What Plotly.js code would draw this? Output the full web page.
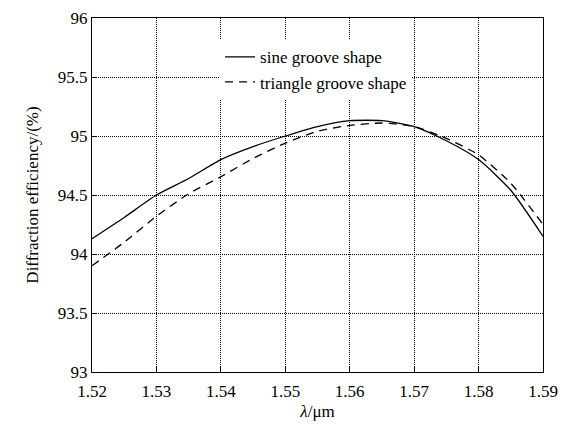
<!DOCTYPE html>
<html>
<head>
<meta charset="utf-8">
<script src="https://cdn.plot.ly/plotly-3.0.1.min.js"></script>
</head>
<body style="margin:0">
<div id="plot"></div>
<script>
// Wavelength samples (µm)
const wavelength = [1.520, 1.525, 1.530, 1.535, 1.540, 1.545, 1.550, 1.555,
                    1.560, 1.565, 1.570, 1.575, 1.580, 1.585, 1.590];
// Diffraction efficiency (%) for each groove profile
const sineGroove = [94.13, 94.31, 94.50, 94.64, 94.80, 94.91, 95.00, 95.08,
                    95.13, 95.13, 95.08, 94.96, 94.80, 94.54, 94.15];
const triangleGroove = [93.90, 94.10, 94.32, 94.51, 94.655, 94.81, 94.94, 95.04,
                        95.09, 95.11, 95.08, 94.98, 94.84, 94.60, 94.25];

const xTicks = [1.52, 1.53, 1.54, 1.55, 1.56, 1.57, 1.58, 1.59];
const yTicks = [93, 93.5, 94, 94.5, 95, 95.5, 96];

const SERIF = 'Times New Roman, Liberation Serif, serif';

const traces = [
  {
    x: wavelength, y: sineGroove, name: 'sine groove shape',
    type: 'scatter', mode: 'lines',
    line: { color: '#000', width: 1.3, dash: 'solid', shape: 'spline', smoothing: 0.6 }
  },
  {
    x: wavelength, y: triangleGroove, name: 'triangle groove shape',
    type: 'scatter', mode: 'lines',
    line: { color: '#000', width: 1.3, dash: '8px,6px', shape: 'spline', smoothing: 0.6 }
  }
];

const layout = {
  width: 570, height: 426,
  margin: { l: 92, r: 27, t: 18, b: 54 },
  font: { family: SERIF, size: 17, color: '#000' },
  showlegend: true,
  legend: {
    x: 0.284, y: 0.94, xanchor: 'left', yanchor: 'top',
    bgcolor: '#fff', borderwidth: 0, tracegroupgap: 0,
    font: { family: SERIF, size: 17, color: '#000' }
  },
  xaxis: {
    showline: true, linecolor: '#000', linewidth: 1, mirror: true,
    ticks: 'inside', ticklen: 5, tickcolor: '#000', tickwidth: 1,
    showgrid: true, gridcolor: '#000', gridwidth: 1, griddash: '1px,1px',
    zeroline: false,
    range: [1.52, 1.59], tickvals: xTicks,
    ticktext: xTicks.map(v => v.toFixed(2)),
    tickfont: { family: SERIF, size: 17, color: '#000' },
    ticklabelstandoff: 4,
    title: { text: '<i>λ</i>/μm', standoff: 4, font: { family: SERIF, size: 17, color: '#000' } }
  },
  yaxis: {
    showline: true, linecolor: '#000', linewidth: 1, mirror: true,
    ticks: 'inside', ticklen: 5, tickcolor: '#000', tickwidth: 1,
    showgrid: true, gridcolor: '#000', gridwidth: 1, griddash: '1px,1px',
    zeroline: false,
    range: [93, 96], tickvals: yTicks,
    ticktext: yTicks.map(v => String(v)),
    tickfont: { family: SERIF, size: 17, color: '#000' },
    title: { text: 'Diffraction efficiency/(%)', standoff: 14, font: { family: SERIF, size: 17, color: '#000' } }
  }
};

Plotly.newPlot('plot', traces, layout, { staticPlot: true });
</script>
</body>
</html>
